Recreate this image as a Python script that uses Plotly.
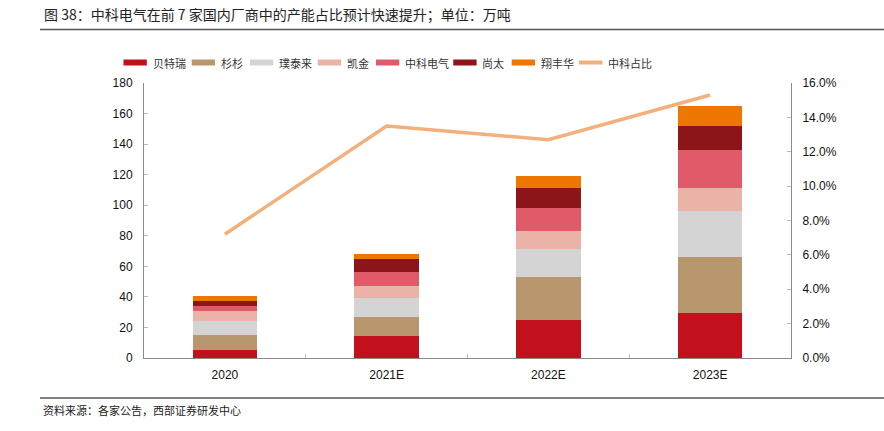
import plotly.graph_objects as go

# ---- data ----
categories = ["2020", "2021E", "2022E", "2023E"]
btr = [5.0, 14.6, 25.0, 29.5]          # 贝特瑞
shanshan = [9.8, 12.2, 28.3, 36.6]     # 杉杉
putailai = [9.6, 12.4, 18.3, 30.1]     # 璞泰来
kaijin = [6.5, 7.9, 11.8, 15.1]        # 凯金
zhongke = [3.3, 9.2, 15.1, 25.1]       # 中科电气
shangtai = [2.8, 8.7, 12.9, 15.7]      # 尚太
xiangfenghua = [3.3, 3.3, 7.6, 12.6]   # 翔丰华
zhongke_share = [0.072, 0.135, 0.127, 0.153]  # 中科占比

series_names = ["贝特瑞", "杉杉", "璞泰来", "凯金", "中科电气", "尚太", "翔丰华"]
series_vals = [btr, shanshan, putailai, kaijin, zhongke, shangtai, xiangfenghua]
colors = ["#C2101D", "#B8976F", "#D4D4D4", "#EBB3A7", "#E05A6A", "#8C1519", "#EE7700"]
line_name = "中科占比"
line_color = "#F2B07C"

W, H = 884, 431
L, R, T, B = 144, 93, 83, 73
PW, PH = W - L - R, H - T - B

def px(x):
    return (x - L) / PW

def py(y):
    return (H - B - y) / PH

CJK = "Noto Sans CJK SC"
NUM = "Liberation Sans, Arial"

fig = go.Figure()
for name, vals, c in zip(series_names, series_vals, colors):
    fig.add_trace(go.Bar(x=categories, y=vals, name=name, marker=dict(color=c, line=dict(width=0)),
                         width=0.4, showlegend=False))
fig.add_trace(go.Scatter(x=categories, y=zhongke_share, name=line_name, mode="lines",
                         line=dict(color=line_color, width=3.5), yaxis="y2", showlegend=False))

shapes = []
annotations = []
# title + rules
annotations.append(dict(text="图 38：中科电气在前 7 家国内厂商中的产能占比预计快速提升；单位：万吨",
                        x=px(42), y=py(14), xref="paper", yref="paper", xanchor="left", yanchor="middle",
                        showarrow=False, font=dict(family=CJK, size=14, color="#222")))
shapes.append(dict(type="line", xref="paper", yref="paper", x0=px(40), x1=px(884), y0=py(29.5), y1=py(29.5),
                   line=dict(color="#555", width=1.5)))
shapes.append(dict(type="line", xref="paper", yref="paper", x0=px(40), x1=px(884), y0=py(398), y1=py(398),
                   line=dict(color="#555", width=1.5)))
annotations.append(dict(text="资料来源：各家公告，西部证券研发中心",
                        x=px(41), y=py(410), xref="paper", yref="paper", xanchor="left", yanchor="middle",
                        showarrow=False, font=dict(family=CJK, size=11, color="#222")))

# manual legend
sw_x = [123.5, 191.7, 250, 317.7, 376, 453.3, 511.7]
ly = 62.5
for name, c, x0 in zip(series_names, colors, sw_x):
    shapes.append(dict(type="rect", xref="paper", yref="paper", x0=px(x0), x1=px(x0 + 23.3),
                       y0=py(ly + 3), y1=py(ly - 3), fillcolor=c, line=dict(width=0)))
    annotations.append(dict(text=name, x=px(x0 + 27), y=py(ly), xref="paper", yref="paper",
                            xanchor="left", yanchor="middle", showarrow=False,
                            font=dict(family=CJK, size=11, color="#333")))
shapes.append(dict(type="line", xref="paper", yref="paper", x0=px(579), x1=px(602.5), y0=py(ly), y1=py(ly),
                   line=dict(color=line_color, width=4)))
annotations.append(dict(text=line_name, x=px(606), y=py(ly), xref="paper", yref="paper",
                        xanchor="left", yanchor="middle", showarrow=False,
                        font=dict(family=CJK, size=11, color="#333")))

axis_col = "#8A8A8A"
fig.update_layout(
    width=W, height=H, margin=dict(l=L, r=R, t=T, b=B, pad=0),
    paper_bgcolor="white", plot_bgcolor="white",
    barmode="stack", showlegend=False,
    xaxis=dict(showline=True, linecolor=axis_col, linewidth=1, ticks="inside", tickson="boundaries",
               ticklen=4, tickcolor="#BBBBBB", showgrid=False, zeroline=False,
               tickfont=dict(family=NUM, size=12, color="#111"), ticklabelstandoff=6),
    yaxis=dict(range=[0, 180], dtick=20, showline=True, linecolor=axis_col, linewidth=1,
               ticks="inside", ticklen=4, tickcolor="#BBBBBB", showgrid=False, zeroline=False,
               tickfont=dict(family=NUM, size=12, color="#111"), ticklabelstandoff=8),
    yaxis2=dict(range=[0, 0.16], dtick=0.02, tickformat=".1%", overlaying="y", side="right",
                showline=True, linecolor=axis_col, linewidth=1, ticks="inside", ticklen=4,
                tickcolor="#BBBBBB", showgrid=False, zeroline=False,
                tickfont=dict(family=NUM, size=12, color="#111"), ticklabelstandoff=8),
    shapes=shapes, annotations=annotations,
)

fig.write_html("out.html", config={"displayModeBar": False},
               post_script="document.body.style.margin='0';document.body.style.overflow='hidden';")
